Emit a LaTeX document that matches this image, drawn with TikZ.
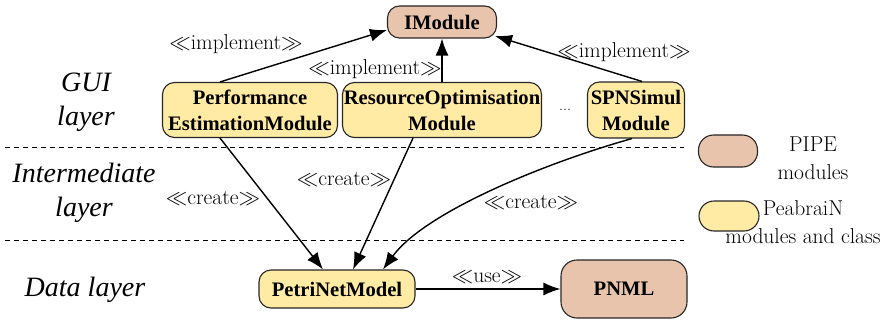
\RequirePackage{fix-cm}
\documentclass[tikz,border=0pt]{standalone}
\usepackage{fontspec}
\newfontfamily\tnr{LiberationSerif}[Extension=.ttf, UprightFont=*-Regular, BoldFont=*-Bold, ItalicFont=*-Italic, BoldItalicFont=*-BoldItalic]
\usetikzlibrary{arrows.meta}
\definecolor{pipec}{HTML}{E8C4AD}
\definecolor{peac}{HTML}{FFEBA3}
\tikzset{
  box/.style={draw=black!85, line width=1.1pt, rounded corners=12pt, align=center, inner sep=0pt,
    font=\tnr\bfseries\fontsize{20.6}{26}\selectfont},
  pipe/.style={box, fill=pipec},
  pea/.style={box, fill=peac},
  conn/.style={line width=1.4pt, -{Latex[length=17pt,width=13pt]}},
  lab/.style={font=\fontsize{21.5}{24}\selectfont, inner sep=0pt},
  layer/.style={font=\tnr\itshape\fontsize{28}{34}\selectfont, align=center, inner sep=0pt},
  leg/.style={font=\fontsize{21.5}{28}\selectfont, align=center, inner sep=0pt},
  sep/.style={dashed, line width=0.8pt, dash pattern=on 5pt off 4pt}
}
\begin{document}
\begin{tikzpicture}[x=1pt,y=-1pt]
\useasboundingbox (0,0) rectangle (896,321);
% layer separators
\coordinate (s1a) at (5,147); \coordinate (s1b) at (684,147);
\coordinate (s2a) at (5,240); \coordinate (s2b) at (684,240);
\draw[sep] (s1a) -- (s1b);
\draw[sep] (s2a) -- (s2b);
% layer labels
\node[layer] (gui) at (86,102) {GUI\\layer};
\node[layer] (inter) at (84,193) {Intermediate\\layer};
\node[layer] (data) at (85,290) {Data layer};
% nodes
\node[pipe, minimum width=109pt, minimum height=32pt] (im) at (442,22) {IModule};
\node[pea, minimum width=175pt, minimum height=55pt] (perf) at (250,110) {Performance\\EstimationModule};
\node[pea, minimum width=199pt, minimum height=55pt] (res) at (442,110) {ResourceOptimisation\\Module};
\node[pea, minimum width=97pt, minimum height=56pt] (spn) at (636,110) {SPNSimul\\Module};
\node[font=\fontsize{16}{18}\selectfont, inner sep=0pt] (dots) at (565,110) {...};
\node[pea, minimum width=156pt, minimum height=38pt] (pn) at (337,289) {PetriNetModel};
\node[pipe, minimum width=126pt, minimum height=58pt, rounded corners=16pt] (pnml) at (624,289) {PNML};
% legend
\node[pipe, minimum width=59pt, minimum height=32pt, rounded corners=15pt] (lg1) at (728,151) {};
\node[leg] (lt1) at (813,158) {PIPE\\modules};
\node[pea, minimum width=60pt, minimum height=30pt, rounded corners=15pt] (lg2) at (729,216) {};
\node[leg] (lt2) at (803,222) {PeabraiN\\modules and class};
% implement arrows
\draw[conn] ([xshift=-30pt]perf.north) -- ([yshift=-8pt]im.west);
\node[lab] (l1) at (236,44) {$\ll$implement$\gg$};
\draw[conn] (res.north) -- (im.south);
\node[lab] (l2) at (375,69) {$\ll$implement$\gg$};
\draw[conn] ([xshift=6pt]spn.north) -- ([xshift=-2pt,yshift=-14pt]im.east);
\node[lab] (l3) at (624,52) {$\ll$implement$\gg$};
% create arrows
\draw[conn] ([xshift=-30pt]perf.south) -- ([xshift=-14pt]pn.north);
\node[lab] (c1) at (213,198) {$\ll$create$\gg$};
\draw[conn] ([xshift=-29pt]res.south) -- ([xshift=16pt]pn.north);
\node[lab] (c2) at (344,179) {$\ll$create$\gg$};
\draw[conn] ([xshift=-4pt]spn.south) .. controls (545,163) and (425,212) .. ([xshift=46pt]pn.north);
\node[lab] (c3) at (531,202) {$\ll$create$\gg$};
% use arrow
\draw[conn] (pn.east) -- (pnml.west);
\node[lab] (u1) at (487,277) {$\ll$use$\gg$};
\end{tikzpicture}
\end{document}
